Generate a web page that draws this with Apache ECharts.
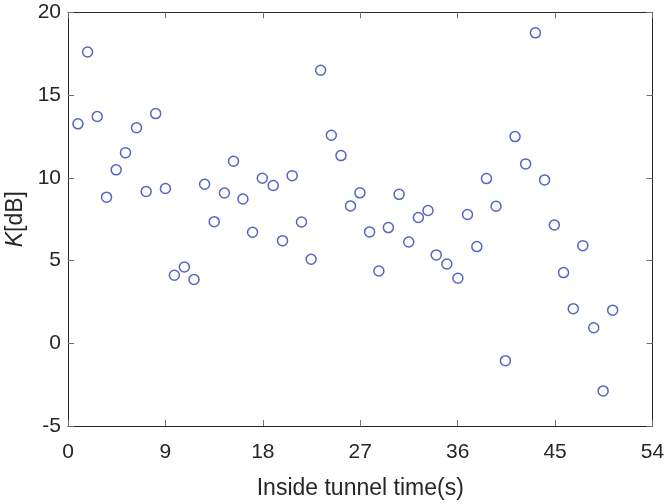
<!DOCTYPE html>
<html>
<head>
<meta charset="utf-8">
<script src="https://cdn.jsdelivr.net/npm/echarts@6/dist/echarts.min.js"></script>
<style>
html,body{margin:0;padding:0;background:#fff;}
#c{width:666px;height:504px;}
</style>
</head>
<body>
<div id="c"></div>
<script>
var timeSec = [0.92,1.81,2.7,3.56,4.45,5.31,6.33,7.22,8.1,9.0,9.83,10.75,11.64,12.62,13.51,14.45,15.29,16.16,17.05,17.95,18.96,19.82,20.71,21.57,22.46,23.34,24.33,25.22,26.1,26.97,27.86,28.72,29.6,30.59,31.48,32.37,33.26,34.02,35.0,36.02,36.91,37.77,38.66,39.55,40.41,41.3,42.28,43.18,44.03,44.93,45.78,46.68,47.56,48.57,49.44,50.32];
var kdB = [13.26,17.6,13.7,8.83,10.48,11.52,13.02,9.17,13.88,9.35,4.11,4.61,3.85,9.61,7.35,9.08,11.0,8.72,6.71,9.97,9.53,6.2,10.13,7.33,5.08,16.5,12.57,11.34,8.3,9.09,6.73,4.37,6.99,9.0,6.12,7.6,8.02,5.34,4.79,3.93,7.78,5.84,9.95,8.28,-1.05,12.49,10.84,18.76,9.87,7.15,4.27,2.09,5.9,0.94,-2.88,2.0];
var xTicks = [0,9,18,27,36,45,54];
var yTicks = [-5,0,5,10,15,20];

var pts = timeSec.map(function(t,i){return [t,kdB[i]];});
var font = 'Liberation Sans, Arial, sans-serif';
var axisCol = '#262626';
var tickCol = '#707070';
function xAx(pos, show){
  return {
    type:'value', position:pos, min:xTicks[0], max:xTicks[xTicks.length-1], interval:9,
    name: show ? 'Inside tunnel time(s)' : '', nameLocation:'middle', nameGap:51,
    nameTextStyle:{fontFamily:font,fontSize:23,color:axisCol},
    axisLine:{show:true,onZero:false,lineStyle:{color:axisCol,width:1}},
    axisTick:{show:true,inside:true,length:6,lineStyle:{color:tickCol}},
    axisLabel:{show:show,margin:16,fontFamily:font,fontSize:21,color:axisCol},
    splitLine:{show:false}
  };
}
function yAx(pos, show){
  return {
    type:'value', position:pos, min:yTicks[0], max:yTicks[yTicks.length-1], interval:5,
    name: show ? '{i|K}[dB]' : '', nameLocation:'middle', nameGap:39,
    nameTextStyle:{fontFamily:font,fontSize:23,color:axisCol,rich:{i:{fontFamily:font,fontSize:23,fontStyle:'italic',color:axisCol}}},
    axisLine:{show:true,onZero:false,lineStyle:{color:axisCol,width:1}},
    axisTick:{show:true,inside:true,length:6,lineStyle:{color:tickCol}},
    axisLabel:{show:show,margin:7,fontFamily:font,fontSize:21,color:axisCol},
    splitLine:{show:false}
  };
}
var chart = echarts.init(document.getElementById('c'), null, {renderer:'canvas'});
chart.setOption({
  animation:false,
  backgroundColor:'#fff',
  grid:{left:68,right:13.5,top:12.3,bottom:78,containLabel:false,outerBoundsMode:'none'},
  xAxis:[xAx('bottom',true), xAx('top',false)],
  yAxis:[yAx('left',true), yAx('right',false)],
  series:[{
    type:'scatter', xAxisIndex:0, yAxisIndex:0,
    data:pts, symbol:'circle', symbolSize:10,
    itemStyle:{color:'rgba(255,255,255,0)',borderColor:'#2b3fae',borderWidth:1.5}
  }]
});
</script>
</body>
</html>
